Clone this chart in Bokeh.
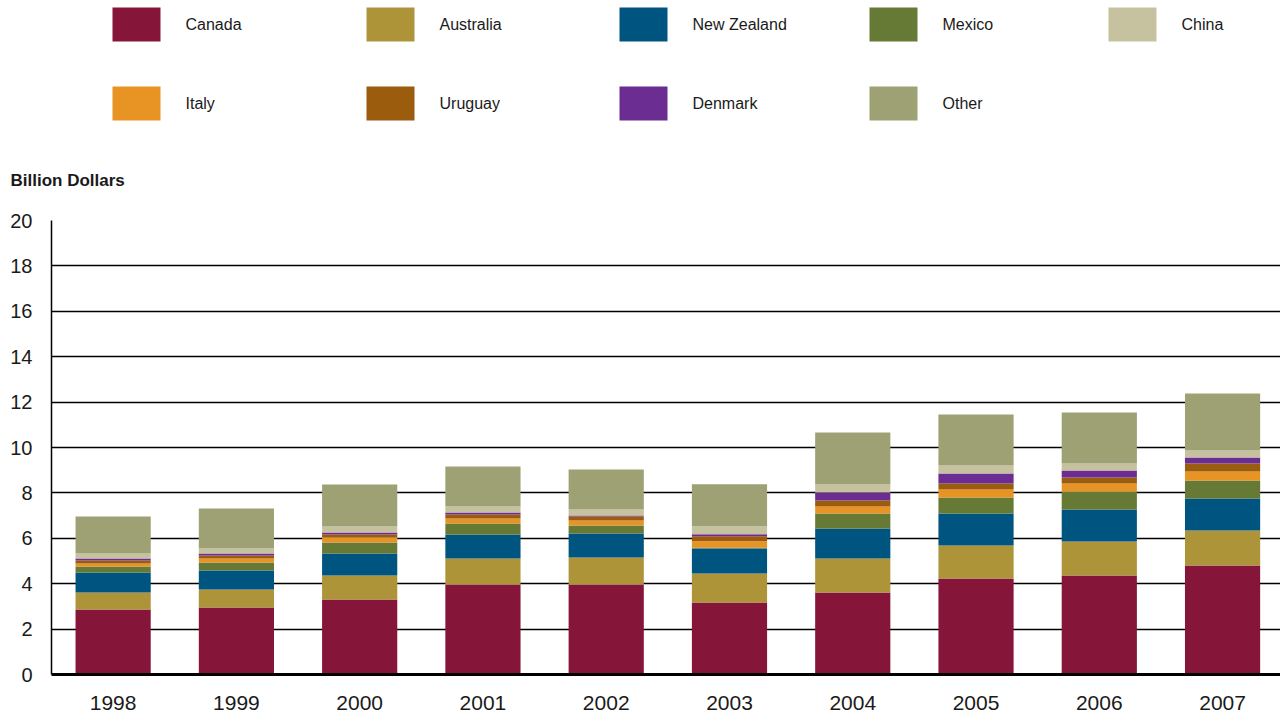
from bokeh.plotting import figure
from bokeh.models import ColumnDataSource, FixedTicker, Range1d, Title
from bokeh.layouts import column
from bokeh.core.properties import value
from bokeh.embed import file_html
from bokeh.resources import INLINE

years = ["1998", "1999", "2000", "2001", "2002", "2003", "2004", "2005", "2006", "2007"]
canada = [2.86, 2.95, 3.30, 3.96, 3.96, 3.17, 3.61, 4.23, 4.36, 4.80]
australia = [0.75, 0.79, 1.06, 1.15, 1.19, 1.28, 1.50, 1.45, 1.50, 1.54]
new_zealand = [0.88, 0.84, 0.97, 1.06, 1.06, 1.10, 1.32, 1.41, 1.41, 1.41]
mexico = [0.27, 0.35, 0.48, 0.48, 0.35, 0.05, 0.66, 0.71, 0.79, 0.80]
italy = [0.13, 0.18, 0.23, 0.22, 0.22, 0.27, 0.31, 0.35, 0.35, 0.39]
uruguay = [0.13, 0.13, 0.13, 0.18, 0.18, 0.22, 0.27, 0.26, 0.27, 0.36]
denmark = [0.09, 0.09, 0.09, 0.09, 0.04, 0.09, 0.35, 0.44, 0.31, 0.26]
china = [0.22, 0.22, 0.26, 0.26, 0.27, 0.35, 0.35, 0.36, 0.31, 0.31]
other = [1.63, 1.76, 1.85, 1.76, 1.76, 1.85, 2.29, 2.24, 2.24, 2.51]

stack_names = ["Canada", "Australia", "New Zealand", "Mexico", "Italy", "Uruguay", "Denmark", "China", "Other"]
stack_colors = ["#85163A", "#AE9438", "#005580", "#667A35", "#E89424", "#9B5C0E", "#6B2D91", "#C6C2A0", "#9DA173"]
legend_order = ["Canada", "Australia", "New Zealand", "Mexico", "China", "Italy", "Uruguay", "Denmark", "Other"]

FONT = "Liberation Sans"
W = 1280
LEFT = 51

# ---------------- legend figure ----------------
LH = 150
leg = figure(width=W, height=LH, output_backend="svg", toolbar_location=None,
             x_range=Range1d(LEFT, W), y_range=Range1d(LH, 0),
             x_axis_type=None, y_axis_type=None,
             min_border_left=LEFT, min_border_right=0,
             min_border_top=0, min_border_bottom=0)
leg.outline_line_color = None
leg.xgrid.visible = False
leg.ygrid.visible = False

col_left = [112, 366, 619, 869, 1108]
row_mid = [24, 103]
color_of = dict(zip(stack_names, stack_colors))
lx, ly, lc, lt = [], [], [], []
for i, name in enumerate(legend_order):
    r, c = divmod(i, 5)
    lx.append(col_left[c])
    ly.append(row_mid[r])
    lc.append(color_of[name])
    lt.append(name)
lsrc = ColumnDataSource(dict(left=lx, right=[v + 48 for v in lx],
                             top=[v - 17 for v in ly], bottom=[v + 17 for v in ly],
                             tx=[v + 73 for v in lx], ty=ly, color=lc, label=lt))
leg.quad(left="left", right="right", top="top", bottom="bottom",
         fill_color="color", line_color=None, source=lsrc)
leg.text(x="tx", y="ty", text="label", source=lsrc, text_font=value(FONT),
         text_font_size=value("16px"), text_baseline="middle", text_align="left",
         text_color="#1a1a1a")

# ---------------- main chart ----------------
MH = 719 - LH
TOP = 220 - LH
BOTTOM = 719 - 674
xs = [i + 0.5 for i in range(len(years))]
data = dict(x=xs, Canada=canada, Australia=australia, **{"New Zealand": new_zealand},
            Mexico=mexico, Italy=italy, Uruguay=uruguay, Denmark=denmark,
            China=china, Other=other)
src = ColumnDataSource(data)

p = figure(width=W, height=MH, output_backend="svg", toolbar_location=None,
           x_range=Range1d(0, 9.97), y_range=Range1d(0, 20),
           min_border_left=LEFT, min_border_right=0, min_border_top=TOP,
           min_border_bottom=BOTTOM)
p.vbar_stack(stack_names, x="x", width=0.61, source=src,
             fill_color=stack_colors, line_color=None)

# spacer between frame and the unit title
p.add_layout(Title(text=" ", text_font_size="11px"), "above")
p.add_layout(Title(text="Billion Dollars", align="left", vertical_align="top",
                   offset=10 - LEFT, text_font=FONT, text_font_size="17px",
                   text_font_style="bold", text_color="#1a1a1a"), "above")

p.outline_line_color = None
p.xgrid.visible = False
p.ygrid.grid_line_color = "black"
p.ygrid.grid_line_width = 1.6
p.yaxis.ticker = FixedTicker(ticks=list(range(0, 21, 2)))
p.xaxis.ticker = FixedTicker(ticks=xs)
p.xaxis.major_label_overrides = {x: y for x, y in zip(xs, years)}

for ax in (p.xaxis[0], p.yaxis[0]):
    ax.major_tick_line_color = None
    ax.minor_tick_line_color = None
    ax.major_tick_out = 0
    ax.major_tick_in = 0
    ax.axis_line_color = "black"
    ax.major_label_text_font = FONT
    ax.major_label_text_color = "#1a1a1a"

p.yaxis.axis_line_width = 1.5
p.yaxis.major_label_text_font_size = "20px"
p.yaxis.major_label_standoff = 19
p.xaxis.axis_line_width = 3
p.xaxis.major_label_text_font_size = "21px"
p.xaxis.major_label_standoff = 21

layout = column(leg, p, spacing=0)
open("out.html", "w").write(file_html(layout, INLINE))
